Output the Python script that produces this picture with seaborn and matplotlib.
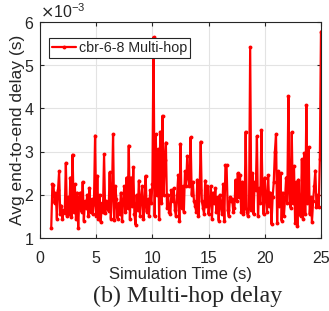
import numpy as np
import pandas as pd
import matplotlib
matplotlib.use("Agg")
import matplotlib.pyplot as plt
import seaborn as sns
from matplotlib.ticker import ScalarFormatter

sns.set_style("ticks")
plt.rcParams['font.family'] = ['Liberation Sans', 'DejaVu Sans']

# Simulation time (s), sampled every 0.1 s from 1 to 25
times = [round(1.0 + 0.1 * i, 1) for i in range(241)]

# Average end-to-end delay (x10^-3 s)
delay_ms = [
    1.24, 2.24, 2.22, 1.80, 2.05, 1.45, 2.10, 2.54, 1.55, 1.75,
    1.45, 1.65, 1.58, 2.74, 1.50, 1.95, 1.55, 2.40, 1.48, 2.93,
    1.60, 2.25, 1.45, 2.05, 1.24, 1.95, 2.05, 1.60, 2.30, 1.40,
    1.85, 1.70, 2.00, 1.52, 2.16, 1.60, 1.90, 1.55, 1.78, 3.37,
    1.50, 2.44, 1.45, 2.00, 1.37, 1.80, 1.60, 2.94, 1.58, 1.85,
    1.70, 1.62, 2.52, 1.45, 1.95, 3.40, 1.42, 2.20, 1.90, 1.45,
    1.80, 1.55, 2.05, 1.40, 1.85, 2.20, 1.60, 2.40, 1.70, 3.14,
    1.45, 2.40, 1.75, 2.64, 1.55, 1.31, 2.00, 1.65, 2.33, 1.50,
    1.90, 2.20, 1.45, 1.75, 2.44, 1.60, 1.90, 1.50, 2.10, 1.80,
    2.25, 5.65, 1.50, 3.40, 2.00, 3.05, 1.45, 3.46, 1.80, 3.83,
    2.00, 2.80, 3.21, 1.70, 2.00, 1.60, 1.55, 2.10, 1.85, 2.15,
    1.65, 1.50, 2.00, 2.45, 1.40, 3.18, 1.70, 2.20, 1.60, 2.55,
    2.20, 2.90, 2.40, 2.20, 3.33, 2.00, 2.30, 1.85, 1.75, 1.60,
    2.35, 1.50, 2.10, 3.23, 1.85, 1.70, 1.55, 2.33, 1.75, 2.20,
    1.55, 1.85, 2.20, 1.45, 2.05, 1.80, 2.15, 1.60, 1.95, 1.40,
    2.00, 1.75, 1.55, 2.25, 1.40, 2.69, 2.68, 1.65, 1.50, 1.95,
    1.85, 1.90, 1.60, 1.70, 2.35, 1.85, 2.50, 1.95, 2.45, 1.60,
    2.30, 1.55, 1.70, 3.46, 1.60, 1.50, 1.70, 5.42, 1.65, 2.50,
    1.55, 2.30, 2.10, 3.36, 1.50, 2.15, 1.80, 3.49, 2.05, 1.55,
    2.40, 1.90, 1.60, 2.45, 1.75, 2.05, 1.32, 1.95, 2.30, 3.00,
    3.40, 1.35, 2.55, 1.75, 2.50, 1.40, 2.05, 1.50, 1.90, 2.40,
    1.80, 4.28, 2.05, 1.70, 3.45, 1.80, 2.67, 1.35, 2.30, 1.28,
    2.35, 1.55, 1.50, 2.82, 1.45, 2.97, 1.55, 4.07, 1.80, 3.10,
    1.55, 1.95, 1.38, 1.85, 2.20, 2.56, 1.72, 2.00, 1.72, 2.84,
    5.78,
]

series_label = "cbr-6-8 Multi-hop"
x_ticks = [0, 5, 10, 15, 20, 25]
y_ticks = [1, 2, 3, 4, 5, 6]

df = pd.DataFrame({"time": times, "delay": np.array(delay_ms) * 1e-3, "series": series_label})

fig = plt.figure(figsize=(3.29, 3.11), dpi=100)
ax = fig.add_axes([0.1216, 0.2347, 0.854, 0.6945])

sns.lineplot(data=df, x="time", y="delay", hue="series", palette=["#ff0000"],
             marker="o", markersize=2.8, markeredgewidth=0, linewidth=1.6, ax=ax)

ax.set_xlim(0, 25)
ax.set_ylim(1e-3, 6e-3)
ax.set_xticks(x_ticks)
ax.set_yticks([v * 1e-3 for v in y_ticks])
fmt = ScalarFormatter(useMathText=True)
fmt.set_powerlimits((-3, -3))
ax.yaxis.set_major_formatter(fmt)
ax.yaxis.get_offset_text().set_fontsize(11.5)
ax.yaxis.get_offset_text().set_color("#262626")

ax.grid(True, color="#e3e3e3", linewidth=0.8)
ax.set_axisbelow(True)
for s in ax.spines.values():
    s.set_color("#262626")
    s.set_linewidth(0.8)
ax.tick_params(direction="in", length=3, width=0.8, labelsize=11.5, colors="#262626",
               top=True, right=True, labelcolor="#262626", pad=4)
ax.tick_params(axis="x", pad=9)

ax.set_xlabel("Simulation Time (s)", fontsize=12, color="#262626", labelpad=1)
ax.set_ylabel("Avg end-to-end delay (s)", fontsize=12.5, color="#262626")
ax.yaxis.set_label_coords(-0.052, 0.5)

leg = ax.legend(loc="upper left", bbox_to_anchor=(0.032, 0.925), fontsize=10.3,
                frameon=True, fancybox=False, framealpha=1, edgecolor="#262626",
                borderpad=0.2, handlelength=1.7, handletextpad=0.2, borderaxespad=0)
leg.get_frame().set_linewidth(0.8)

fig.text(0.57, 0.047, "(b) Multi-hop delay", ha="center", va="center",
         fontsize=17.3, family=["Liberation Serif", "DejaVu Serif"])

fig.savefig("out.png", dpi=100)
